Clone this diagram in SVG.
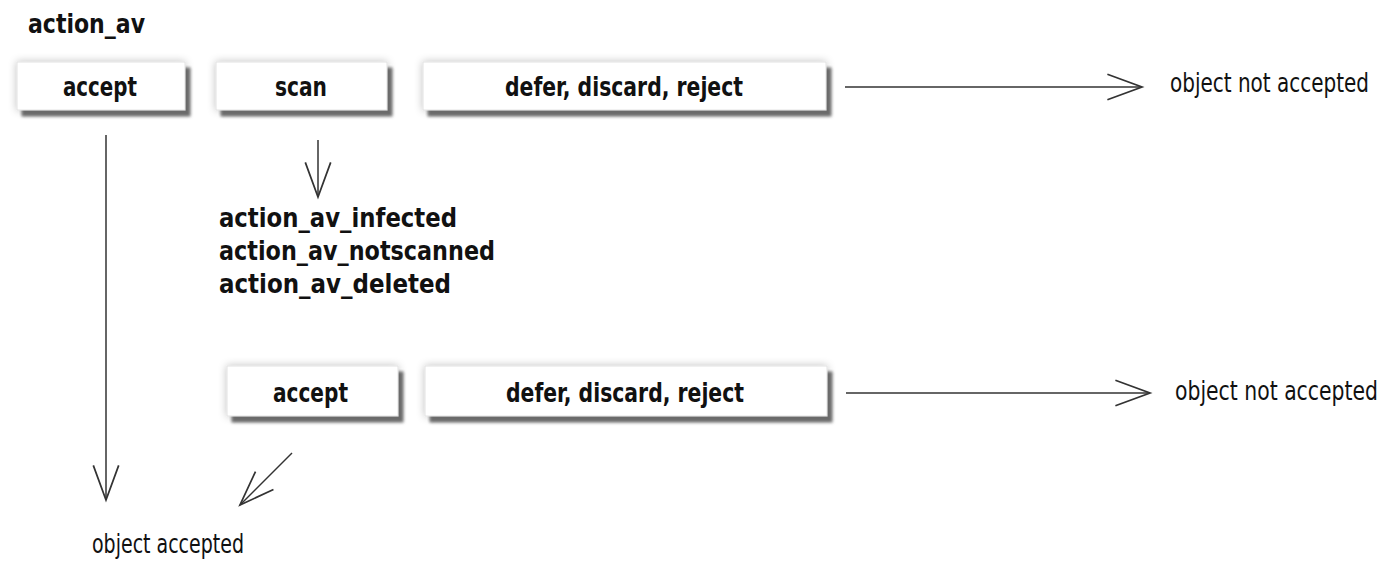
<svg xmlns="http://www.w3.org/2000/svg" width="1394" height="568" viewBox="0 0 1394 568">
<style>
  .box { fill: #ffffff; stroke: #e2e2e2; stroke-width: 1; filter: url(#shadow); }
  .lbl { font-family: "Liberation Sans Narrow", "DejaVu Sans Condensed", sans-serif; font-weight: bold; font-size: 27px; fill: #111111; }
  .txt { font-family: "Liberation Sans Narrow", "DejaVu Sans Condensed", sans-serif; font-size: 21px; fill: #111111; }
  .conn { stroke: #333333; stroke-width: 1.5; fill: none; marker-end: url(#open); }
</style>
<defs>
  <filter id="shadow" x="-10%" y="-30%" width="120%" height="180%">
    <feGaussianBlur in="SourceAlpha" stdDeviation="4" result="halo"/>
    <feComponentTransfer in="halo" result="haloL"><feFuncA type="linear" slope="0.25"/></feComponentTransfer>
    <feOffset in="SourceAlpha" dx="5" dy="6" result="off"/>
    <feGaussianBlur in="off" stdDeviation="1.6" result="offb"/>
    <feFlood flood-color="#6a6a6a"/>
    <feComposite in2="offb" operator="in" result="sh"/>
    <feMerge><feMergeNode in="haloL"/><feMergeNode in="sh"/><feMergeNode in="SourceGraphic"/></feMerge>
  </filter>
  <marker id="open" markerUnits="userSpaceOnUse" markerWidth="40" markerHeight="30" viewBox="-32 -13 34 26" refX="0" refY="0" orient="auto">
    <path d="M-30,-11 L0,0 L-30,11" fill="none" stroke="#333333" stroke-width="1.5"/>
  </marker>
</defs>

<g id="title"><text class="lbl" x="28" y="33" textLength="117" lengthAdjust="spacingAndGlyphs">action_av</text></g>

<g id="accept1"><rect class="box" x="17" y="62" width="168" height="48"/><text class="lbl" x="63" y="96" textLength="74" lengthAdjust="spacingAndGlyphs">accept</text></g>
<g id="scan"><rect class="box" x="216" y="62" width="171" height="48"/><text class="lbl" x="275" y="96" textLength="52" lengthAdjust="spacingAndGlyphs">scan</text></g>
<g id="reject1"><rect class="box" x="423" y="62" width="403" height="48"/><text class="lbl" x="505" y="96" textLength="238" lengthAdjust="spacingAndGlyphs">defer, discard, reject</text></g>
<g id="notacc1"><text class="txt" transform="translate(1170,92) scale(1,1.24)" x="0" y="0" textLength="199" lengthAdjust="spacingAndGlyphs">object not accepted</text></g>

<g id="codes">
  <text class="lbl" x="219" y="227" textLength="238" lengthAdjust="spacingAndGlyphs">action_av_infected</text>
  <text class="lbl" x="219" y="260" textLength="276" lengthAdjust="spacingAndGlyphs">action_av_notscanned</text>
  <text class="lbl" x="219" y="293" textLength="232" lengthAdjust="spacingAndGlyphs">action_av_deleted</text>
</g>

<g id="accept2"><rect class="box" x="227" y="366" width="171" height="50"/><text class="lbl" x="273" y="402" textLength="75" lengthAdjust="spacingAndGlyphs">accept</text></g>
<g id="reject2"><rect class="box" x="425" y="366" width="402" height="50"/><text class="lbl" x="506" y="402" textLength="238" lengthAdjust="spacingAndGlyphs">defer, discard, reject</text></g>
<g id="notacc2"><text class="txt" transform="translate(1175,400) scale(1,1.24)" x="0" y="0" textLength="203" lengthAdjust="spacingAndGlyphs">object not accepted</text></g>

<g id="accepted"><text class="txt" transform="translate(92,553) scale(1,1.24)" x="0" y="0" textLength="152" lengthAdjust="spacingAndGlyphs">object accepted</text></g>

<g id="connectors">
  <line class="conn" x1="845" y1="87" x2="1142" y2="87"/>
  <line class="conn" x1="846" y1="393" x2="1150" y2="393"/>
  <line class="conn" x1="106" y1="135" x2="106" y2="500"/>
  <line class="conn" x1="318" y1="140" x2="318" y2="197"/>
  <line class="conn" x1="292" y1="453" x2="240" y2="505"/>
</g>
</svg>
